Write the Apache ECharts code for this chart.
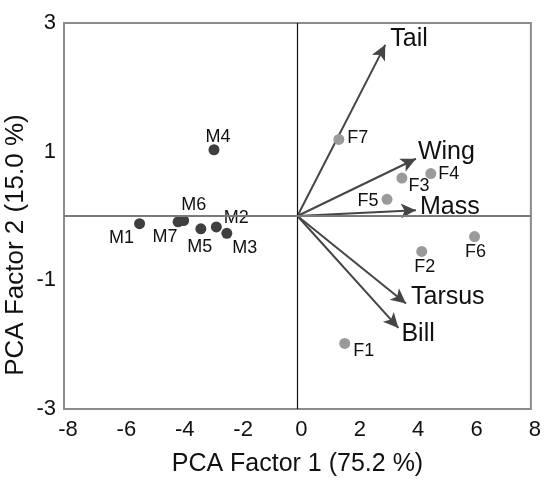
<!DOCTYPE html>
<html>
<head>
<meta charset="utf-8">
<script src="https://cdn.jsdelivr.net/npm/echarts@6/dist/echarts.min.js"></script>
<style>
  html, body { margin: 0; padding: 0; background: #fff; }
  #chart { width: 544px; height: 482px; }
</style>
</head>
<body>
<div id="chart"></div>
<script>
// PCA scores for male and female birds
const maleNames = ['M1', 'M2', 'M3', 'M4', 'M5', 'M6', 'M7'];
const maleX = [-5.41, -2.78, -2.42, -2.86, -3.31, -3.90, -4.09];
const maleY = [-0.12, -0.17, -0.27, 1.03, -0.20, -0.07, -0.09];

const femaleNames = ['F1', 'F2', 'F3', 'F4', 'F5', 'F6', 'F7'];
const femaleX = [1.62, 4.26, 3.58, 4.57, 3.07, 6.07, 1.42];
const femaleY = [-1.98, -0.55, 0.59, 0.66, 0.26, -0.32, 1.19];

// Trait loading vectors
const traitNames = ['Tail', 'Wing', 'Mass', 'Tarsus', 'Bill'];
const traitX = [3.01, 4.06, 4.06, 3.72, 3.46];
const traitY = [2.66, 0.89, 0.09, -1.36, -1.74];

// Axis ticks
const xTicks = [-8, -6, -4, -2, 0, 2, 4, 6, 8];
const yTicks = [-3, -1, 1, 3];

// Label placement (pixel offsets from each marker centre)
const pointLabelOffset = {
  M1: [-18, 14], M2: [20, -9], M3: [18, 15], M4: [4, -13],
  M5: [-1, 18], M6: [10, -15], M7: [-13, 15],
  F1: [19, 8], F2: [3, 16], F3: [17, 8], F4: [18, 0],
  F5: [-19, 2], F6: [1, 15], F7: [19, -1]
};
const traitLabelOffset = {
  Tail: [5, -6], Wing: [2, -7], Mass: [4, -3], Tarsus: [5, -6], Bill: [3, 6]
};

const FONT = '"Liberation Sans", Arial, Helvetica, sans-serif';
const INK = '#111111';

function pointData(names, xs, ys) {
  return names.map((n, i) => ({
    name: n,
    value: [xs[i], ys[i]],
    label: { offset: pointLabelOffset[n] }
  }));
}

function nameLabel(size, align) {
  return {
    show: true, position: 'inside', align: align, verticalAlign: 'middle',
    formatter: p => p.name,
    color: INK, fontFamily: FONT, fontSize: size,
    textBorderWidth: 0, opacity: 1
  };
}

const chart = echarts.init(document.getElementById('chart'), null, { renderer: 'canvas' });

chart.setOption({
  animation: false,
  backgroundColor: '#ffffff',
  grid: {
    left: 64, right: 10, top: 23, bottom: 66,
    show: true, borderColor: '#8c8c8c', borderWidth: 2, backgroundColor: 'transparent'
  },
  xAxis: {
    type: 'value',
    min: xTicks[0], max: xTicks[xTicks.length - 1], interval: 2,
    axisLine: { show: false }, axisTick: { show: false }, splitLine: { show: false },
    axisLabel: {
      color: INK, fontFamily: FONT, fontSize: 22, margin: 10,
      padding: [0, 0, 0, 8],
      formatter: v => String(v)
    },
    name: 'PCA Factor 1 (75.2 %)',
    nameLocation: 'middle', nameGap: 43,
    nameTextStyle: { color: INK, fontFamily: FONT, fontSize: 25 }
  },
  yAxis: {
    type: 'value',
    min: yTicks[0], max: yTicks[yTicks.length - 1], interval: 2,
    axisLine: { show: false }, axisTick: { show: false }, splitLine: { show: false },
    axisLabel: { color: INK, fontFamily: FONT, fontSize: 22, margin: 8 }
  },
  graphic: [{
    type: 'text',
    x: 16, y: 245,
    rotation: Math.PI / 2,
    style: {
      text: 'PCA Factor 2 (15.0 %)',
      fill: INK,
      font: '26px ' + FONT,
      align: 'center', verticalAlign: 'middle'
    }
  }],
  series: [
    {
      // zero reference lines
      type: 'scatter', data: [], silent: true,
      markLine: {
        silent: true, symbol: 'none', animation: false,
        label: { show: false },
        data: [
          { xAxis: 0, lineStyle: { color: '#111', width: 1.2, type: 'solid' } },
          { yAxis: 0, lineStyle: { color: '#7a7a7a', width: 2, type: 'solid' } }
        ]
      }
    },
    {
      // loading arrows
      type: 'lines',
      coordinateSystem: 'cartesian2d',
      silent: true,
      symbol: ['none', 'arrow'],
      symbolSize: [0, [11, 15]],
      lineStyle: { color: '#454545', width: 2, opacity: 1 },
      data: traitNames.map((n, i) => ({ coords: [[0, 0], [traitX[i], traitY[i]]] }))
    },
    {
      // trait names at arrow tips
      type: 'scatter', silent: true,
      symbolSize: 0,
      itemStyle: { opacity: 1 },
      data: traitNames.map((n, i) => ({
        name: n, value: [traitX[i], traitY[i]],
        label: { offset: traitLabelOffset[n] }
      })),
      label: nameLabel(25, 'left')
    },
    {
      name: 'Male', type: 'scatter', silent: true,
      symbolSize: 11,
      itemStyle: { color: '#3f3f3f', opacity: 1 },
      data: pointData(maleNames, maleX, maleY),
      label: nameLabel(18, 'center')
    },
    {
      name: 'Female', type: 'scatter', silent: true,
      symbolSize: 11,
      itemStyle: { color: '#9a9a9a', opacity: 1 },
      data: pointData(femaleNames, femaleX, femaleY),
      label: nameLabel(18, 'center')
    }
  ]
});
</script>
</body>
</html>
